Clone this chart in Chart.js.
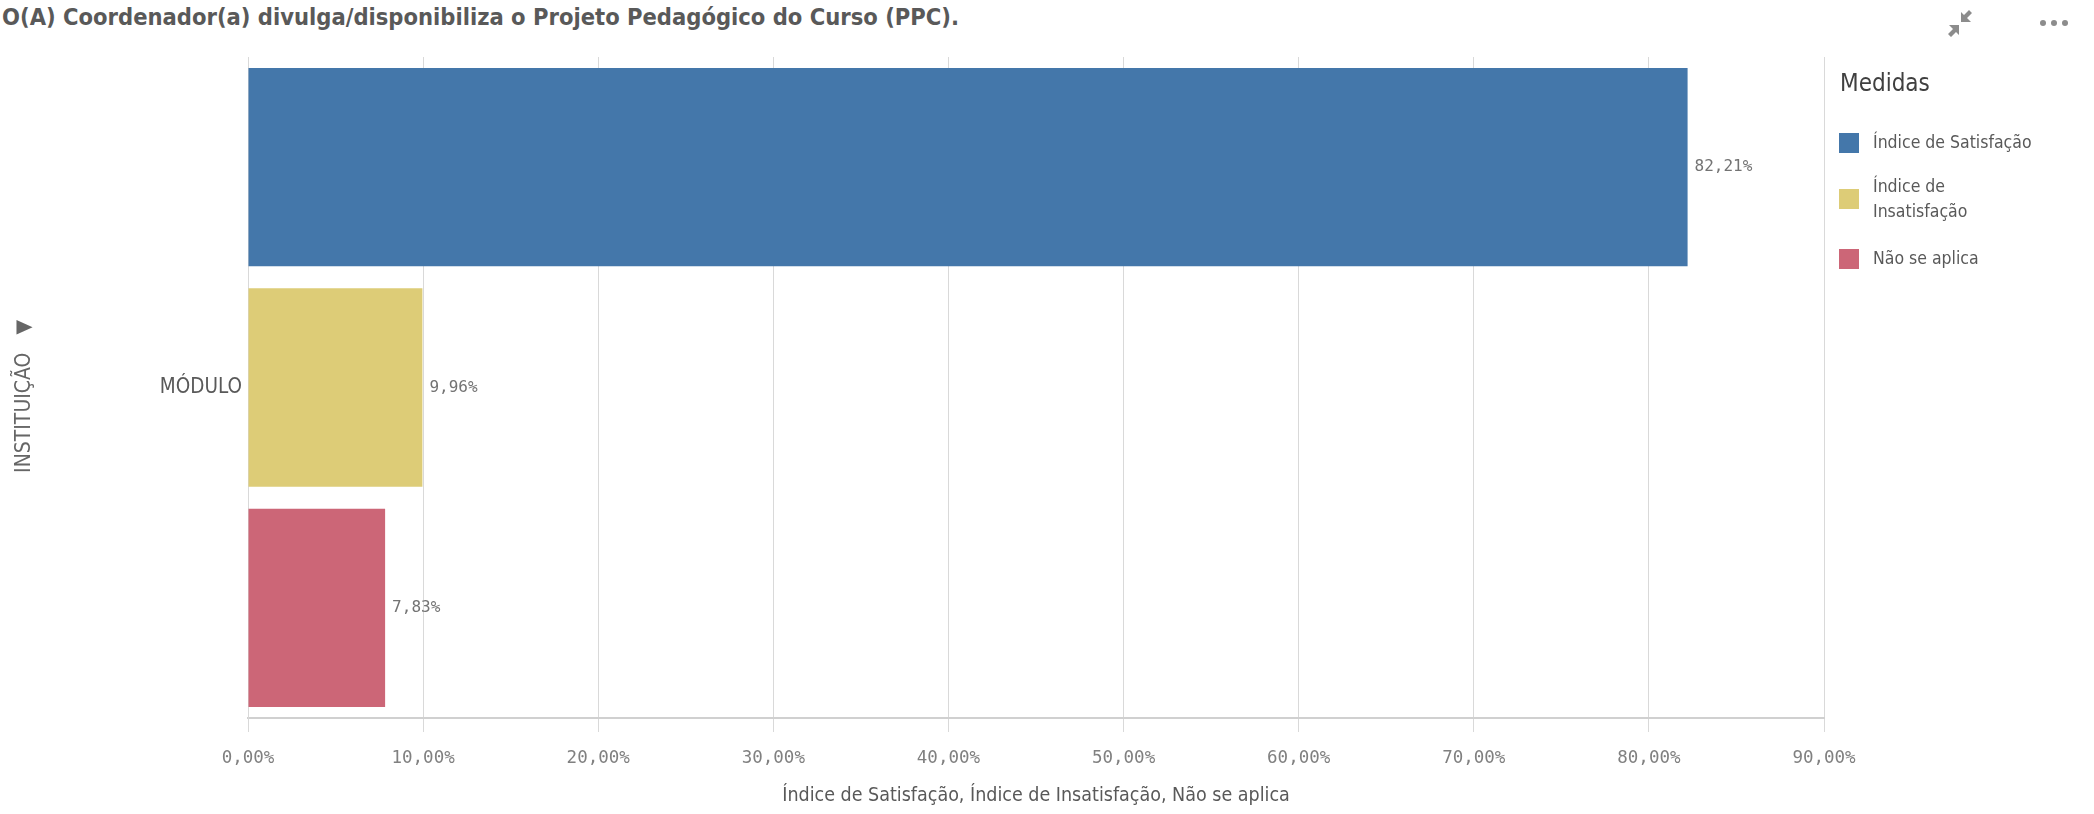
<!DOCTYPE html>
<html>
<head>
<meta charset="utf-8">
<script src="https://cdn.jsdelivr.net/npm/chart.js@4.4.1/dist/chart.umd.min.js"></script>
<style>
    body { margin: 0; background: #fff; width: 2094px; height: 814px; overflow: hidden; position: relative; }
    #title { position: absolute; left: 2px; top: 3px; font: bold 23.5px "DejaVu Sans Condensed", sans-serif; color: #595959; white-space: nowrap; }
    #wrap { position: absolute; left: 0; top: 0; width: 2094px; height: 814px; }
    .legend-title { position: absolute; left: 1840px; top: 69px; font: 24px "DejaVu Sans Condensed", sans-serif; color: #404040; }
    .legend-item { position: absolute; left: 1839px; font: 17.5px "DejaVu Sans Condensed", sans-serif; color: #595959; line-height: 25px; }
    .legend-item .sw { position: absolute; left: 0; width: 20px; height: 20px; }
    .legend-item .tx { position: absolute; left: 34px; white-space: nowrap; }
    #icons { position: absolute; left: 1940px; top: 6px; }
</style>
</head>
<body>
<div id="title">O(A) Coordenador(a) divulga/disponibiliza o Projeto Pedagógico do Curso (PPC).</div>
<div id="wrap"><canvas id="chart"></canvas></div>
<div id="legend"></div>
<svg id="icons" width="140" height="36">
    <g fill="#8c8c8c">
        <polygon points="9,19 19,19 19,29 16,26 11,31 8,28 13,23"/>
        <polygon points="31,16 21,16 21,6 24,9 29,4 32,7 27,12"/>
        <circle cx="103" cy="17" r="3"/>
        <circle cx="114" cy="17" r="3"/>
        <circle cx="125" cy="17" r="3"/>
    </g>
</svg>
<script>
// Data
const categories = ['MÓDULO'];
const seriesNames = ['Índice de Satisfação', 'Índice de Insatisfação', 'Não se aplica'];
const satisfacao = [82.21];
const insatisfacao = [9.96];
const naoSeAplica = [7.83];
const seriesColors = ['#4477aa', '#ddcc77', '#cc6677'];
const xMax = 90;
const xStep = 10;

const NARROW = '"DejaVu Sans Condensed", sans-serif';
const MONO = '"DejaVu Sans Mono", monospace';

function formatPct(v) {
    return v.toFixed(2).replace('.', ',') + '%';
}

// Legend (html, so the long label can wrap)
const legendEl = document.getElementById('legend');
legendEl.innerHTML = '<div class="legend-title">Medidas</div>';
const legendTops = [130, 174, 246];
const legendLines = [['Índice de Satisfação'], ['Índice de', 'Insatisfação'], ['Não se aplica']];
seriesNames.forEach((name, i) => {
    const item = document.createElement('div');
    item.className = 'legend-item';
    item.style.top = legendTops[i] + 'px';
    const h = legendLines[i].length * 25;
    item.innerHTML = `
        <div class="sw" style="background:${seriesColors[i]};top:${(h - 20) / 2}px"></div>
        <div class="tx">${legendLines[i].join('<br>')}</div>
    `;
    legendEl.appendChild(item);
});

// Value labels at bar ends
const valueLabels = {
    id: 'valueLabels',
    afterDatasetsDraw(chart) {
        const ctx = chart.ctx;
        ctx.save();
        ctx.font = '16px ' + MONO;
        ctx.fillStyle = '#737373';
        ctx.textAlign = 'left';
        ctx.textBaseline = 'middle';
        chart.data.datasets.forEach((ds, i) => {
            const meta = chart.getDatasetMeta(i);
            meta.data.forEach((el, j) => {
                ctx.fillText(formatPct(ds.data[j]), el.x + 7, el.y);
            });
        });
        ctx.restore();
    }
};

new Chart(document.getElementById('chart'), {
    type: 'bar',
    data: {
        labels: categories,
        datasets: [
            { label: seriesNames[0], data: satisfacao, backgroundColor: seriesColors[0] },
            { label: seriesNames[1], data: insatisfacao, backgroundColor: seriesColors[1] },
            { label: seriesNames[2], data: naoSeAplica, backgroundColor: seriesColors[2] }
        ]
    },
    options: {
        indexAxis: 'y',
        responsive: true,
        maintainAspectRatio: false,
        animation: false,
        categoryPercentage: 1.0,
        barPercentage: 0.9,
        layout: { padding: { top: 57, right: 270, left: 0, bottom: 0 } },
        plugins: {
            legend: { display: false },
            tooltip: { enabled: false }
        },
        scales: {
            x: {
                min: 0,
                max: xMax,
                ticks: {
                    stepSize: xStep,
                    padding: 16,
                    color: '#808080',
                    font: { size: 17.5, family: MONO },
                    callback: v => formatPct(v)
                },
                grid: { color: '#d9d9d9', lineWidth: 1, tickLength: 14 },
                border: { color: '#d0d0d0', width: 2 },
                title: {
                    display: true,
                    text: seriesNames.join(', '),
                    color: '#595959',
                    font: { size: 19.5, family: NARROW },
                    padding: { top: 0, bottom: 6 }
                },
                afterFit: scale => { scale.height = 96; }
            },
            y: {
                ticks: {
                    padding: -2,
                    color: '#595959',
                    font: { size: 20.5, family: NARROW }
                },
                grid: { display: false },
                border: { color: '#d9d9d9', width: 1 },
                title: {
                    display: true,
                    text: 'INSTITUIÇÃO   ▼   ',
                    color: '#666666',
                    font: { size: 21, family: NARROW },
                    padding: { top: 12, bottom: 0 }
                },
                afterFit: scale => { scale.width = 248; }
            }
        }
    },
    plugins: [valueLabels]
});
</script>
</body>
</html>
